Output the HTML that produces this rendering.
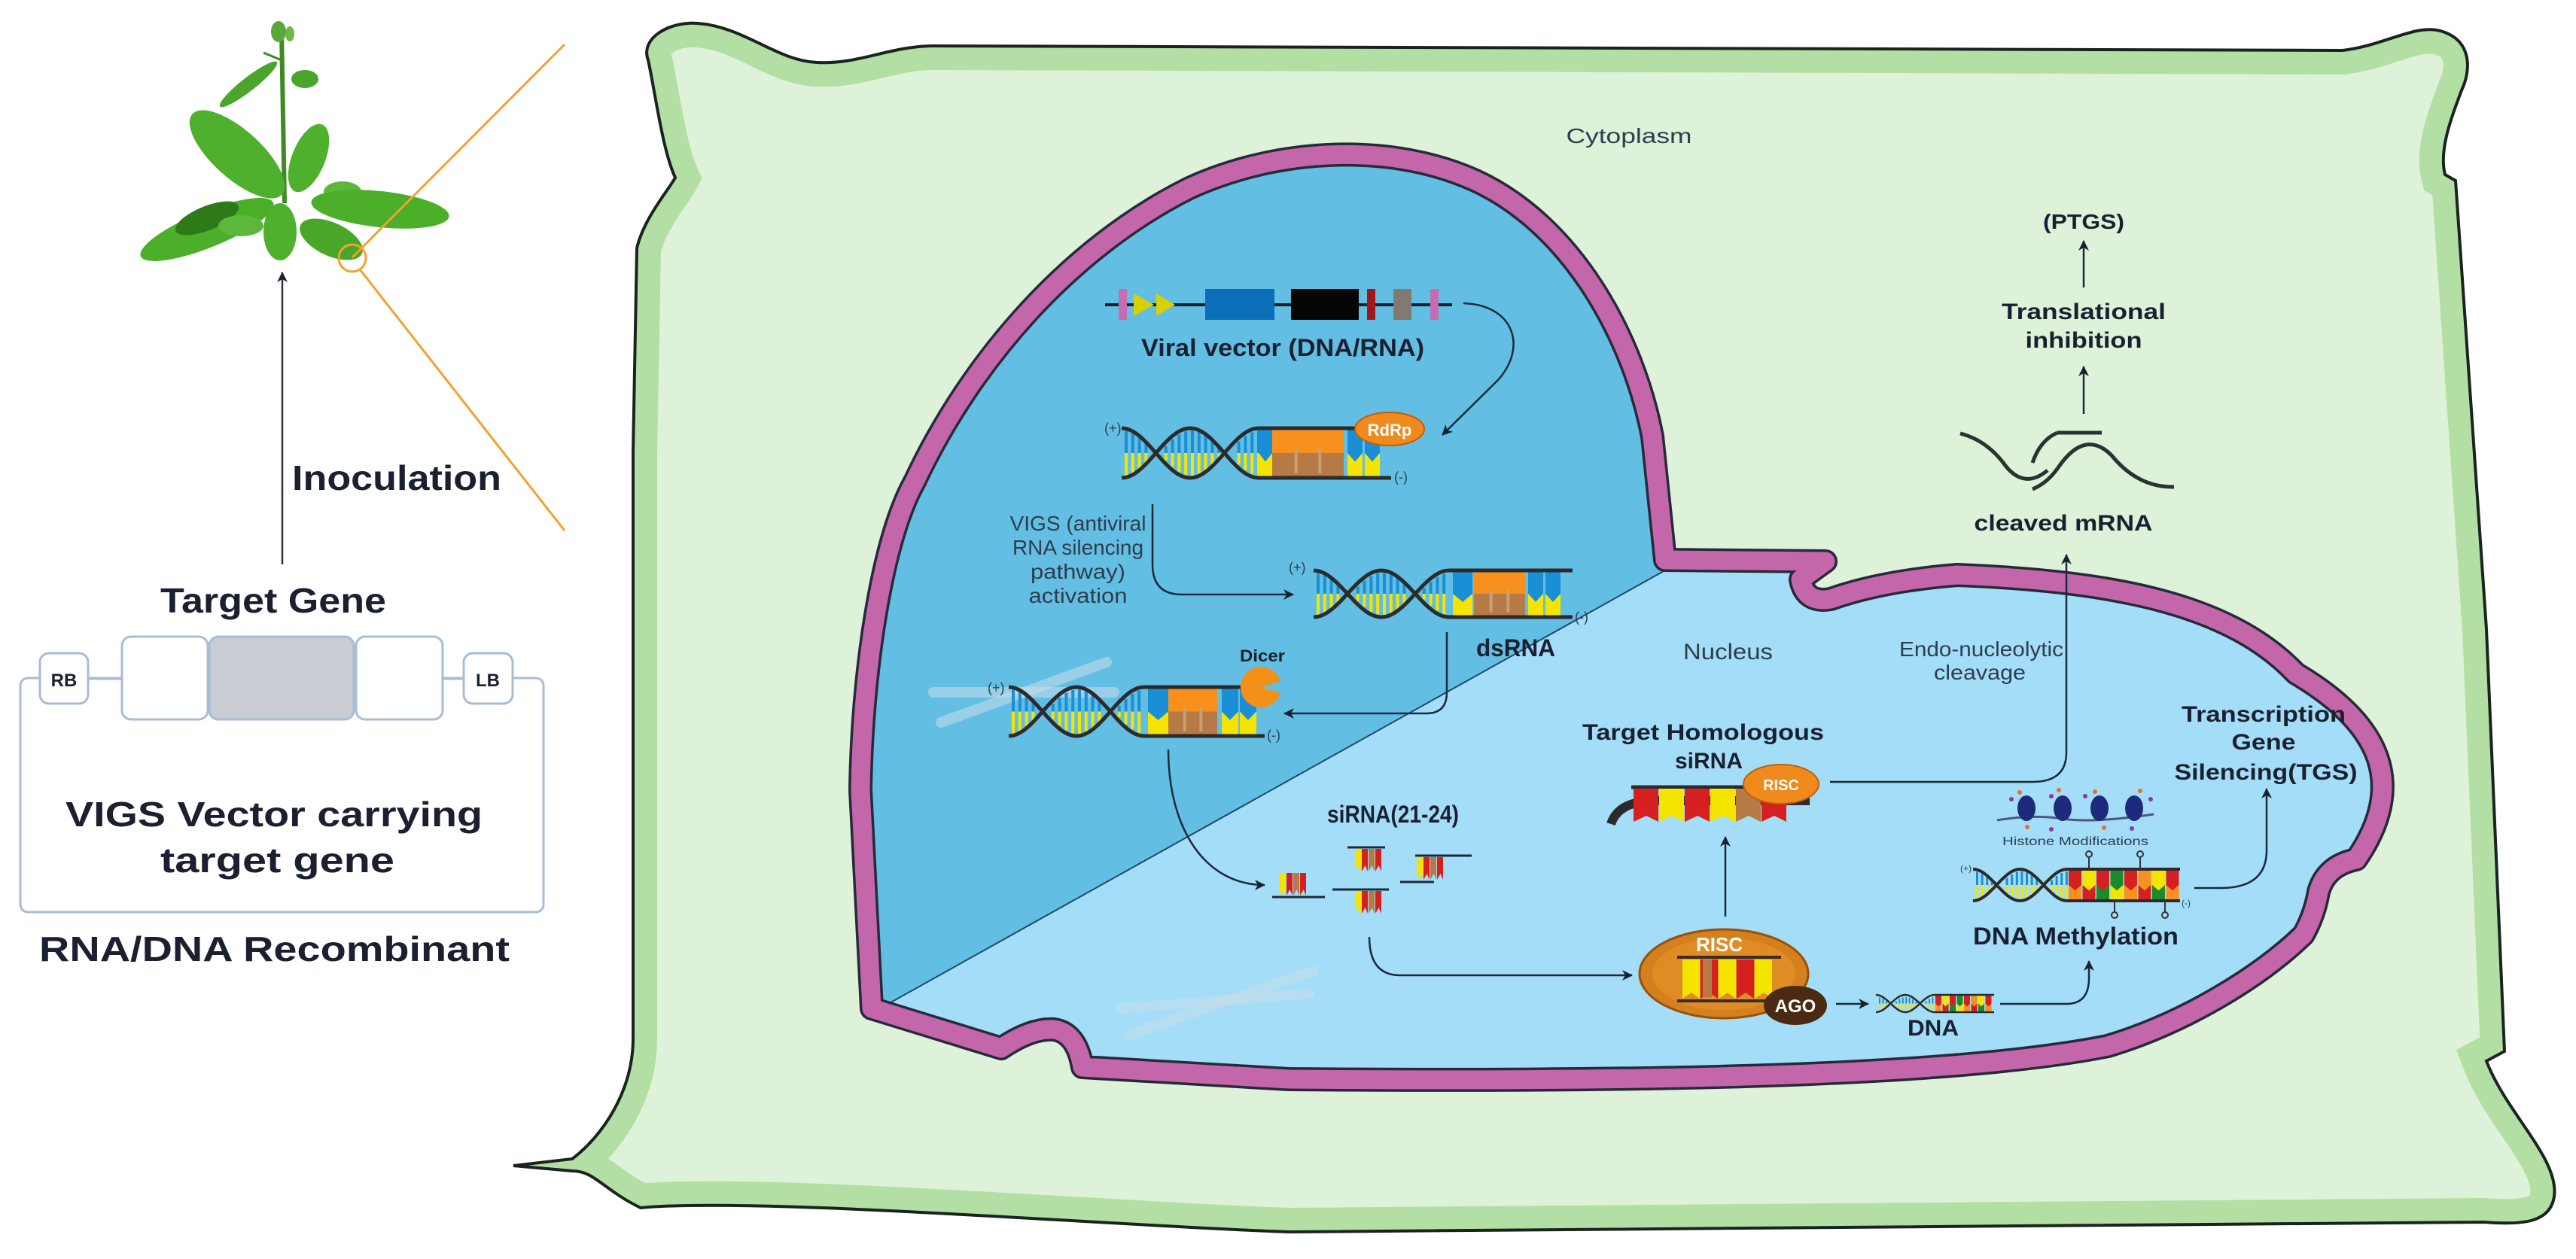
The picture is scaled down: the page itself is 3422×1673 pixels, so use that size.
<!DOCTYPE html>
<html><head><meta charset="utf-8"><style>
html,body{margin:0;padding:0;background:#fff;}
svg{display:block;}
text{font-family:"Liberation Sans",Arial,sans-serif;fill:#1b2030;}
.b{font-weight:bold;}
.n{fill:#2e3d4e;}
</style></head><body>
<svg id="s" width="3422" height="1673" viewBox="0 0 3422 1673" xmlns="http://www.w3.org/2000/svg">
<defs>
<marker id="ar" markerWidth="10" markerHeight="10" refX="8" refY="5" orient="auto" markerUnits="userSpaceOnUse">
<path d="M0,0 L10,5 L0,10 L3,5 Z" fill="#1b2030"/></marker>
<marker id="ar2" markerWidth="16" markerHeight="16" refX="13" refY="8" orient="auto" markerUnits="userSpaceOnUse">
<path d="M0,1 L14,8 L0,15 L4,8 Z" fill="#1b2030"/></marker>
<clipPath id="cellclip"><path id="cellp" d="M861,80 C850,50 890,28 927,31 C990,36 1030,80 1085,83 C1140,86 1180,62 1238,61 L3112,67 C3170,60 3210,30 3245,42 C3285,55 3282,95 3270,120 C3255,160 3240,200 3248,232 L3262,240 L3303,836 L3327,1397 L3303,1410 C3330,1480 3400,1540 3393,1590 C3388,1625 3350,1628 3300,1624 L1712,1637 C1500,1630 1000,1590 851,1605 C800,1580 790,1556 760,1556 L682,1549 L760,1540 C800,1510 841,1450 841,1380 L841,600 L846,330 C855,290 890,250 897,236 C880,200 870,120 861,80 Z"/></clipPath>
<clipPath id="nucclip"><path id="nucp" d="M1158,1340 L1143,1050 C1145,900 1170,720 1215,640 C1290,480 1420,330 1580,250 C1700,195 1850,190 1960,240 C2090,300 2170,450 2195,580 L2212,744 L2425,746 L2392,770 Q2398,802 2432,796 Q2500,772 2600,764 C2800,772 2960,800 3050,895 C3160,960 3200,1040 3130,1142 Q3090,1150 3080,1185 Q3075,1215 3060,1242 C3000,1300 2900,1360 2800,1390 C2600,1430 2200,1438 1712,1434 L1438,1418 Q1430,1372 1400,1368 Q1370,1366 1330,1393 Z"/></clipPath>
</defs>

<!-- LEFT PANEL -->
<g id="plant">
<line x1="378" y1="270" x2="374" y2="40" stroke="#3e8a24" stroke-width="6"/>
<line x1="374" y1="80" x2="350" y2="70" stroke="#3e8a24" stroke-width="3"/>
<ellipse cx="370" cy="42" rx="10" ry="14" fill="#5aa83a"/>
<ellipse cx="385" cy="45" rx="6" ry="10" fill="#6cb848"/>
<ellipse cx="330" cy="112" rx="48" ry="9" fill="#4aa52a" transform="rotate(-38 330 112)"/>
<ellipse cx="405" cy="105" rx="18" ry="12" fill="#4aa52a"/>
<ellipse cx="315" cy="205" rx="80" ry="32" fill="#4eb02c" transform="rotate(42 315 205)"/>
<ellipse cx="410" cy="210" rx="22" ry="48" fill="#4eb02c" transform="rotate(22 410 210)"/>
<ellipse cx="275" cy="305" rx="95" ry="24" fill="#4caf2a" transform="rotate(-22 275 305)"/>
<ellipse cx="275" cy="290" rx="45" ry="16" fill="#2f7a18" transform="rotate(-22 275 290)"/>
<ellipse cx="320" cy="300" rx="30" ry="14" fill="#5cb83a"/>
<ellipse cx="372" cy="308" rx="22" ry="38" fill="#4eb02c"/>
<ellipse cx="440" cy="318" rx="45" ry="22" fill="#48a628" transform="rotate(25 440 318)"/>
<ellipse cx="455" cy="255" rx="25" ry="14" fill="#5cb83a"/>
<ellipse cx="505" cy="278" rx="92" ry="24" fill="#4caf2a" transform="rotate(6 505 278)"/>
</g>
<line x1="468" y1="342" x2="750" y2="59" stroke="#f5a030" stroke-width="3"/>
<line x1="478" y1="358" x2="750" y2="705" stroke="#f5a030" stroke-width="3"/>
<circle cx="468" cy="343" r="18" fill="none" stroke="#f5a030" stroke-width="3"/>
<line x1="375" y1="750" x2="375" y2="362" stroke="#333" stroke-width="2.5" marker-end="url(#ar2)"/>
<text x="388" y="651" class="b" font-size="46" textLength="278" lengthAdjust="spacingAndGlyphs">Inoculation</text>
<text x="213" y="814" class="b" font-size="46" textLength="300" lengthAdjust="spacingAndGlyphs">Target Gene</text>

<rect x="27" y="901" width="695" height="311" rx="10" fill="none" stroke="#a8bcd6" stroke-width="3"/>
<rect x="162" y="846" width="114" height="110" rx="12" fill="#fff" stroke="#a8bcd6" stroke-width="3"/>
<rect x="278" y="846" width="192" height="110" rx="12" fill="#c9ccd2" stroke="#a8bcd6" stroke-width="3"/>
<rect x="473" y="846" width="115" height="110" rx="12" fill="#fff" stroke="#a8bcd6" stroke-width="3"/>
<line x1="117" y1="902" x2="162" y2="902" stroke="#a8bcd6" stroke-width="3"/>
<line x1="588" y1="902" x2="616" y2="902" stroke="#a8bcd6" stroke-width="3"/>
<rect x="53" y="868" width="64" height="67" rx="12" fill="#fff" stroke="#a8bcd6" stroke-width="3"/>
<rect x="616" y="868" width="65" height="67" rx="12" fill="#fff" stroke="#a8bcd6" stroke-width="3"/>
<text x="85" y="912" class="b" font-size="24" text-anchor="middle">RB</text>
<text x="648" y="912" class="b" font-size="24" text-anchor="middle">LB</text>
<text x="87" y="1098" class="b" font-size="46" textLength="554" lengthAdjust="spacingAndGlyphs">VIGS Vector carrying</text>
<text x="213" y="1159" class="b" font-size="46" textLength="311" lengthAdjust="spacingAndGlyphs">target gene</text>
<text x="52" y="1277" class="b" font-size="46" textLength="625" lengthAdjust="spacingAndGlyphs">RNA/DNA Recombinant</text>

<!-- CELL -->
<path d="M861,80 C850,50 890,28 927,31 C990,36 1030,80 1085,83 C1140,86 1180,62 1238,61 L3112,67 C3170,60 3210,30 3245,42 C3285,55 3282,95 3270,120 C3255,160 3240,200 3248,232 L3262,240 L3303,836 L3327,1397 L3303,1410 C3330,1480 3400,1540 3393,1590 C3388,1625 3350,1628 3300,1624 L1712,1637 C1500,1630 1000,1590 851,1605 C800,1580 790,1556 760,1556 L682,1549 L760,1540 C800,1510 841,1450 841,1380 L841,600 L846,330 C855,290 890,250 897,236 C880,200 870,120 861,80 Z" fill="#ddf2d8"/>
<g clip-path="url(#cellclip)"><use href="#cellp" fill="none" stroke="#b3dea4" stroke-width="64"/></g>
<use href="#cellp" fill="none" stroke="#1b2320" stroke-width="4"/>
<text x="2164" y="190" font-size="28" text-anchor="middle" class="n" textLength="167" lengthAdjust="spacingAndGlyphs">Cytoplasm</text>

<!-- NUCLEUS -->
<use href="#nucp" fill="#a3ddf8"/>
<g clip-path="url(#nucclip)">
<polygon points="1178,1335 2235,745 2235,150 1080,150 1080,1380" fill="#63bee4"/>
<line x1="1178" y1="1335" x2="2235" y2="745" stroke="#1d4a66" stroke-width="2"/>
<g fill="none" stroke="#c8dcea" stroke-opacity="0.55" stroke-width="14" stroke-linecap="round">
<line x1="1240" y1="920" x2="1480" y2="920"/>
<line x1="1250" y1="960" x2="1470" y2="880"/>
<line x1="1490" y1="1340" x2="1740" y2="1320"/>
<line x1="1500" y1="1375" x2="1745" y2="1290"/>
</g>
</g>
<use href="#nucp" fill="none" stroke="#262a3a" stroke-width="32" stroke-linejoin="round"/>
<use href="#nucp" fill="none" stroke="#c466aa" stroke-width="25" stroke-linejoin="round"/>

<g id="dyn"></g>

<!-- viral vector -->
<line x1="1468" y1="405" x2="1929" y2="405" stroke="#1b2030" stroke-width="4"/>
<rect x="1486" y="384" width="11" height="41" fill="#c46db0"/>
<polygon points="1506,390 1533,405 1506,420" fill="#d8d000"/>
<polygon points="1536,390 1561,405 1536,420" fill="#d8d000"/>
<rect x="1601" y="384" width="92" height="41" fill="#0a6fb8"/>
<rect x="1715" y="384" width="90" height="41" fill="#050505"/>
<rect x="1816" y="384" width="11" height="41" fill="#a11818"/>
<rect x="1851" y="384" width="24" height="41" fill="#807a72"/>
<rect x="1900" y="384" width="11" height="41" fill="#c46db0"/>
<text x="1516" y="473" class="b" font-size="32" textLength="376" lengthAdjust="spacingAndGlyphs">Viral vector (DNA/RNA)</text>
<path d="M1944,403 C2010,405 2030,460 1990,505 L1916,578" fill="none" stroke="#1b2a3a" stroke-width="2.5" marker-end="url(#ar2)"/>

<ellipse cx="1846" cy="570" rx="46" ry="22" fill="#f08a1c" stroke="#c0600a" stroke-width="2"/>
<text x="1846" y="579" class="b" font-size="22" text-anchor="middle" style="fill:#fff">RdRp</text>
<text x="1467" y="575" font-size="18" class="n">(+)</text>
<text x="1852" y="640" font-size="18" class="n">(-)</text>

<text x="1432" y="705" font-size="28" class="n" text-anchor="middle" textLength="181" lengthAdjust="spacingAndGlyphs">VIGS (antiviral</text>
<text x="1432" y="737" font-size="28" class="n" text-anchor="middle" textLength="174" lengthAdjust="spacingAndGlyphs">RNA silencing</text>
<text x="1432" y="769" font-size="28" class="n" text-anchor="middle" textLength="126" lengthAdjust="spacingAndGlyphs">pathway)</text>
<text x="1432" y="801" font-size="28" class="n" text-anchor="middle" textLength="131" lengthAdjust="spacingAndGlyphs">activation</text>
<path d="M1531,670 L1531,750 Q1531,790 1570,790 L1718,790" fill="none" stroke="#1b2a3a" stroke-width="2.5" marker-end="url(#ar2)"/>
<text x="1712" y="760" font-size="18" class="n">(+)</text>
<text x="2092" y="826" font-size="18" class="n">(-)</text>
<text x="1961" y="872" class="b" font-size="32" textLength="105" lengthAdjust="spacingAndGlyphs">dsRNA</text>
<path d="M1922,840 L1922,920 Q1922,948 1895,948 L1706,948" fill="none" stroke="#1b2a3a" stroke-width="2.5" marker-end="url(#ar2)"/>

<circle cx="1675" cy="913" r="27" fill="#f39018"/>
<path d="M1675,913 L1702,905 L1702,921 Z" fill="#63bee4"/>
<text x="1647" y="879" class="b" font-size="22" textLength="60" lengthAdjust="spacingAndGlyphs">Dicer</text>
<text x="1312" y="920" font-size="18" class="n">(+)</text>
<text x="1683" y="983" font-size="18" class="n">(-)</text>
<path d="M1552,996 C1552,1100 1600,1176 1680,1176" fill="none" stroke="#1b2a3a" stroke-width="2.5" marker-end="url(#ar2)"/>

<text x="1763" y="1093" class="b" font-size="32" textLength="175" lengthAdjust="spacingAndGlyphs">siRNA(21-24)</text>
<path d="M1819,1245 Q1819,1296 1860,1296 L2168,1296" fill="none" stroke="#1b2a3a" stroke-width="2.5" marker-end="url(#ar2)"/>

<text x="2236" y="876" font-size="30" class="n" textLength="119" lengthAdjust="spacingAndGlyphs">Nucleus</text>
<text x="2632" y="872" font-size="28" class="n" text-anchor="middle" textLength="218" lengthAdjust="spacingAndGlyphs">Endo-nucleolytic</text>
<text x="2630" y="903" font-size="28" class="n" text-anchor="middle" textLength="122" lengthAdjust="spacingAndGlyphs">cleavage</text>

<text x="2102" y="983" class="b" font-size="30" textLength="321" lengthAdjust="spacingAndGlyphs">Target Homologous</text>
<text x="2225" y="1021" class="b" font-size="30" textLength="90" lengthAdjust="spacingAndGlyphs">siRNA</text>
<path d="M2140,1095 Q2150,1064 2200,1064 L2404,1064" fill="none" stroke="#2b2b2b" stroke-width="12"/>
<line x1="2167" y1="1046" x2="2320" y2="1046" stroke="#2b2b2b" stroke-width="5"/>
<g id="tsi"></g>
<ellipse cx="2366" cy="1042" rx="50" ry="26" fill="#f08a1c" stroke="#c0600a" stroke-width="2"/>
<text x="2366" y="1050" class="b" font-size="20" text-anchor="middle" style="fill:#fff">RISC</text>
<path d="M2431,1039 L2700,1039 Q2745,1039 2745,1000 L2745,737" fill="none" stroke="#1b2a3a" stroke-width="2.5" marker-end="url(#ar2)"/>
<line x1="2292" y1="1218" x2="2292" y2="1112" stroke="#1b2a3a" stroke-width="2.5" marker-end="url(#ar2)"/>

<ellipse cx="2290" cy="1294" rx="112" ry="59" fill="#d5801e" stroke="#9a5008" stroke-width="3"/>
<ellipse cx="2290" cy="1294" rx="95" ry="48" fill="#e8952a" opacity="0.6"/>
<text x="2284" y="1264" class="b" font-size="26" text-anchor="middle" style="fill:#fff">RISC</text>
<line x1="2228" y1="1272" x2="2366" y2="1272" stroke="#3a2a20" stroke-width="4"/>
<line x1="2228" y1="1330" x2="2366" y2="1330" stroke="#3a2a20" stroke-width="4"/>
<g id="rsi"></g>
<ellipse cx="2385" cy="1336" rx="42" ry="26" fill="#4a2a12"/>
<text x="2385" y="1345" class="b" font-size="24" text-anchor="middle" style="fill:#fff">AGO</text>
<line x1="2439" y1="1334" x2="2482" y2="1334" stroke="#1b2a3a" stroke-width="2.5" marker-end="url(#ar2)"/>
<text x="2534" y="1376" class="b" font-size="30" textLength="68" lengthAdjust="spacingAndGlyphs">DNA</text>
<path d="M2657,1334 L2745,1334 Q2775,1334 2775,1300 L2775,1277" fill="none" stroke="#1b2a3a" stroke-width="2.5" marker-end="url(#ar2)"/>

<!-- histone -->
<path d="M2653,1090 Q2700,1082 2740,1088 T2861,1082" fill="none" stroke="#4a5a7a" stroke-width="3"/>
<g fill="#1f2a7c">
<ellipse cx="2692" cy="1074" rx="12" ry="17"/><ellipse cx="2740" cy="1074" rx="12" ry="17"/>
<ellipse cx="2789" cy="1074" rx="12" ry="17"/><ellipse cx="2835" cy="1074" rx="12" ry="17"/></g>
<g fill="#e8702a"><circle cx="2683" cy="1053" r="3"/><circle cx="2735" cy="1050" r="3"/><circle cx="2783" cy="1052" r="3"/><circle cx="2843" cy="1051" r="3"/><circle cx="2693" cy="1099" r="3"/><circle cx="2795" cy="1100" r="3"/></g>
<g fill="#8a3aa0"><circle cx="2672" cy="1062" r="3"/><circle cx="2725" cy="1058" r="3"/><circle cx="2770" cy="1058" r="3"/><circle cx="2857" cy="1062" r="3"/><circle cx="2725" cy="1102" r="3"/><circle cx="2832" cy="1101" r="3"/></g>
<text x="2660" y="1123" font-size="16" class="n" textLength="194" lengthAdjust="spacingAndGlyphs">Histone Modifications</text>
<g stroke="#333" stroke-width="2" fill="none">
<line x1="2775" y1="1138" x2="2775" y2="1155"/><circle cx="2775" cy="1135" r="4"/>
<line x1="2843" y1="1138" x2="2843" y2="1155"/><circle cx="2843" cy="1135" r="4"/>
<line x1="2809" y1="1197" x2="2809" y2="1212"/><circle cx="2809" cy="1216" r="4"/>
<line x1="2876" y1="1197" x2="2876" y2="1212"/><circle cx="2876" cy="1216" r="4"/></g>
<text x="2604" y="1158" font-size="12" class="n">(+)</text>
<text x="2898" y="1204" font-size="12" class="n">(-)</text>
<text x="2621" y="1255" class="b" font-size="32" textLength="273" lengthAdjust="spacingAndGlyphs">DNA Methylation</text>
<path d="M2915,1180 L2950,1180 Q3011,1180 3011,1130 L3011,1048" fill="none" stroke="#1b2a3a" stroke-width="2.5" marker-end="url(#ar2)"/>
<text x="3007" y="959" class="b" font-size="30" text-anchor="middle" textLength="218" lengthAdjust="spacingAndGlyphs">Transcription</text>
<text x="3007" y="996" class="b" font-size="30" text-anchor="middle" textLength="85" lengthAdjust="spacingAndGlyphs">Gene</text>
<text x="3010" y="1036" class="b" font-size="30" text-anchor="middle" textLength="243" lengthAdjust="spacingAndGlyphs">Silencing(TGS)</text>

<!-- PTGS -->
<path d="M2604,576 Q2640,585 2665,620 Q2690,650 2720,625" fill="none" stroke="#2b3330" stroke-width="5"/>
<path d="M2733,575 L2792,575" fill="none" stroke="#2b3330" stroke-width="5"/>
<path d="M2733,575 Q2710,585 2700,615" fill="none" stroke="#2b3330" stroke-width="5"/>
<path d="M2700,650 Q2720,642 2735,620 Q2770,570 2805,605 Q2840,648 2888,647" fill="none" stroke="#2b3330" stroke-width="5"/>
<text x="2741" y="705" class="b" font-size="30" text-anchor="middle" textLength="237" lengthAdjust="spacingAndGlyphs">cleaved mRNA</text>
<line x1="2768" y1="550" x2="2768" y2="487" stroke="#1b2a3a" stroke-width="2.5" marker-end="url(#ar2)"/>
<text x="2768" y="424" class="b" font-size="30" text-anchor="middle" textLength="218" lengthAdjust="spacingAndGlyphs">Translational</text>
<text x="2768" y="462" class="b" font-size="30" text-anchor="middle" textLength="155" lengthAdjust="spacingAndGlyphs">inhibition</text>
<line x1="2768" y1="382" x2="2768" y2="320" stroke="#1b2a3a" stroke-width="2.5" marker-end="url(#ar2)"/>
<text x="2768" y="304" class="b" font-size="28" text-anchor="middle" textLength="108" lengthAdjust="spacingAndGlyphs">(PTGS)</text>
</svg>
<script>
(function(){
var NS="http://www.w3.org/2000/svg",dyn=document.getElementById('dyn');
function el(p,t,a){var e=document.createElementNS(NS,t);for(var k in a)e.setAttribute(k,a[k]);p.appendChild(e);return e;}
var B="#1a8fd6",Y="#f5e400",O="#f7901e",BR="#b57a45",R="#d62020",G="#1a8a2a";
function dna(x0,x1,xe,yt,yb,blocks,sw,bw){
 var g=el(dyn,'g',{}),m=(yt+yb)/2,a=(yb-yt)/2,P=x1-x0,s1='',s2='';
 for(var x=x0+4;x<x1-2;x+=bw*2.2){var c=Math.abs(Math.cos(2*Math.PI*(x-x0)/P));if(c<0.3)continue;
  el(g,'rect',{x:x,y:m-a*c+3,width:bw,height:a*c-3,fill:B});
  el(g,'rect',{x:x,y:m,width:bw,height:a*c-3,fill:Y});}
 for(var i=0;i<=60;i++){var xx=x0+P*i/60,cc=Math.cos(2*Math.PI*i/60);
  s1+=(i?'L':'M')+xx.toFixed(1)+','+(m-a*cc).toFixed(1);s2+=(i?'L':'M')+xx.toFixed(1)+','+(m+a*cc).toFixed(1);}
 blocks.forEach(function(b){
  el(g,'rect',{x:b[0],y:yt+1,width:b[1],height:m-yt,fill:b[2]});
  el(g,'rect',{x:b[0],y:m,width:b[1],height:yb-m-1,fill:b[3]});
  if(b[1]>30){for(var q=b[0]+b[1]/3;q<b[0]+b[1]-4;q+=b[1]/3)el(g,'rect',{x:q-2,y:m-6,width:4,height:yb-m,fill:'#c9a070'});}
  else el(g,'polygon',{points:(b[0])+','+m+' '+(b[0]+b[1]/2)+','+(m+(yb-m)*0.35)+' '+(b[0]+b[1])+','+m,fill:b[2]});
 });
 el(g,'path',{d:s1,fill:'none',stroke:'#2b2b2b','stroke-width':sw});
 el(g,'path',{d:s2,fill:'none',stroke:'#2b2b2b','stroke-width':sw});
 el(g,'line',{x1:x1,y1:yt,x2:xe,y2:yt,stroke:'#2b2b2b','stroke-width':sw});
 el(g,'line',{x1:x1,y1:yb,x2:xe,y2:yb,stroke:'#2b2b2b','stroke-width':sw});
}
dna(1490,1672,1848,569,635,[[1672,18,B,Y],[1690,95,O,BR],[1790,20,B,Y],[1813,20,B,Y]],5,4);
dna(1745,1925,2089,758,820,[[1930,26,B,Y],[1958,68,O,BR],[2030,20,B,Y],[2053,20,B,Y]],5,4);
dna(1340,1520,1680,913,978,[[1525,27,B,Y],[1552,65,O,BR],[1623,22,B,Y],[1647,22,B,Y]],5,4);
var mc=[[R,O],[Y,R],[R,G],[G,Y],[R,O],[O,R],[Y,G],[R,O]],mb=[];
for(var i=0;i<8;i++)mb.push([2748+i*18.5,17,mc[i][0],mc[i][1]]);
dna(2621,2746,2896,1155,1197,mb,4,3);
var sb=[];for(var i=0;i<8;i++)sb.push([2571+i*9.5,8,mc[i][0],mc[i][1]]);
dna(2492,2570,2649,1322,1345,sb,2.5,2);
function si(p,x,y,h,cols,w){cols.forEach(function(c,i){var xx=x+i*w;
 el(p,'polygon',{points:xx+','+y+' '+(xx+w-1)+','+y+' '+(xx+w-1)+','+(y+h)+' '+(xx+w/2)+','+(y+h-8)+' '+xx+','+(y+h),fill:c});});}
var pieces=[[1790,1126,1840,1800,1128],[1880,1137,1955,1882,1139],[1770,1182,1845,1800,1184],[1690,1192,1760,1700,1160]];
pieces.forEach(function(p){el(dyn,'line',{x1:p[0],y1:p[1],x2:p[2],y2:p[1],stroke:'#1b2a3a','stroke-width':3});
 si(dyn,p[3],p[4],30,[Y,R,BR,R],9);});
el(dyn,'line',{x1:1860,y1:1172,x2:1905,y2:1172,stroke:'#1b2a3a','stroke-width':3});
si(document.getElementById('tsi'),2170,1048,44,[R,Y,R,Y,BR,R],34);
si(document.getElementById('rsi'),2235,1275,52,[Y,R,Y,R,Y],24);
el(document.getElementById('rsi'),'rect',{x:2262,y:1275,width:12,height:50,fill:BR});
})();
</script>
</body></html>
